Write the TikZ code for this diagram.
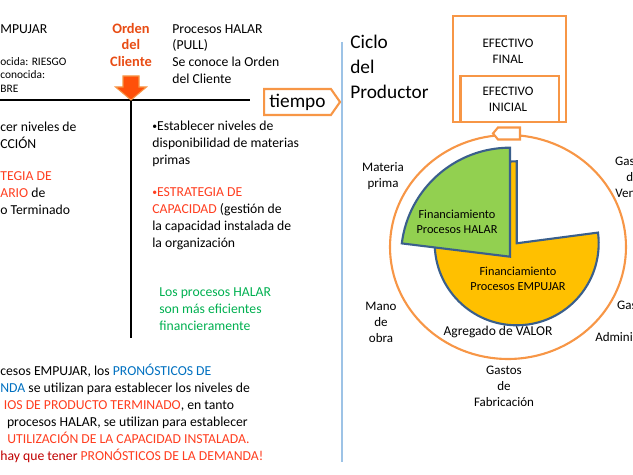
\documentclass[tikz,border=0pt]{standalone}
\usepackage{fontspec}
\setmainfont{Carlito}
\definecolor{naranja1}{RGB}{247,150,70}
\definecolor{rojo1}{RGB}{255,62,32}
\definecolor{rojo2}{RGB}{192,0,0}
\definecolor{azul1}{RGB}{0,112,192}
\definecolor{verde1}{RGB}{0,176,80}
\definecolor{flecha1}{RGB}{255,80,10}
\definecolor{orden1}{RGB}{232,76,20}
\definecolor{celeste1}{RGB}{157,195,230}
\definecolor{amarillo1}{RGB}{255,192,0}
\definecolor{pasto1}{RGB}{146,208,80}
\definecolor{borde1}{RGB}{58,95,140}
\usetikzlibrary{shapes.symbols, positioning}
\newcommand{\vineta}{\raisebox{0.6pt}{\fontsize{5.5}{5.5}\selectfont•}}

\begin{document}
\begin{tikzpicture}[x=0.02cm, y=0.02cm,
  txt/.style={inner sep=0pt, align=left, anchor=west, font=\fontsize{7.8}{9.6}\selectfont},
  chico/.style={inner sep=0pt, align=left, anchor=west, font=\fontsize{6.5}{7.9}\selectfont},
  lbl/.style={inner sep=0pt, align=center, font=\fontsize{7.4}{9.1}\selectfont},
  caja/.style={draw=naranja1, line width=1.2pt},
  sector/.style={draw=borde1, line width=1.2pt}
]
  \useasboundingbox (0,0) rectangle (633,475);
  \clip (0,0) rectangle (633,475);

  \coordinate (ejeI) at (0,375);
  \coordinate (ejeD) at (250,375);
  \coordinate (corte) at (131,375);
  \coordinate (corteB) at (131,137);
  \draw[line width=1.2pt] (ejeI) -- (ejeD);
  \draw[line width=1.2pt] (corte) -- (corteB);
  \draw[draw=naranja1, fill=flecha1, line width=0.6pt]
    (123,399) -- (139,399) -- (139,388) -- (146.5,388) -- (131,375)
    -- (115.5,388) -- (123,388) -- cycle;
  \node[font=\bfseries\fontsize{8.2}{9.4}\selectfont, text=orden1, align=center, inner sep=0pt]
    (orden) at (131,430) {Orden\\del\\Cliente};
  \node[signal, signal to=east, signal pointer angle=110, draw=naranja1, line width=1.2pt,
    fill=white, minimum width=1.52cm, minimum height=0.52cm, inner sep=0pt, anchor=west,
    font=\fontsize{11}{13}\selectfont] (tiempo) at (263,373) {tiempo};

  \node[txt] (empujar) at (0,446) {MPUJAR};
  \node[chico] (riesgo) at (0,400) {ocida: RIESGO\\conocida:\\BRE};
  \node[txt] (produc) at (0,340) {cer niveles de\\CCIÓN};
  \node[txt] (inventario) at (0,282) {\textcolor{rojo1}{TEGIA DE}\\\textcolor{rojo1}{ARIO} de\\o Terminado};

  \node[txt] (halar) at (172,421) {Procesos HALAR\\(PULL)\\Se conoce la Orden\\del Cliente};
  \node[txt] (dispon) at (152,331.5) {\vineta Establecer niveles de\\disponibilidad de materias\\primas};
  \node[txt] (capac) at (152,256) {\textcolor{rojo1}{\vineta ESTRATEGIA DE}\\\textcolor{rojo1}{CAPACIDAD} (gestión de\\la capacidad instalada de\\la organización};
  \node[txt, text=verde1] (eficien) at (159,166) {Los procesos HALAR\\son más eficientes\\financieramente};

  \node[txt] (nota) at (0,61.6) {cesos EMPUJAR, los \textcolor{azul1}{PRONÓSTICOS DE}\\
    \textcolor{azul1}{NDA} se utilizan para establecer los niveles de\\
    \hspace*{2pt}\textcolor{rojo1}{IOS DE PRODUCTO TERMINADO}, en tanto\\
    \hspace*{3.8pt}procesos HALAR, se utilizan para establecer\\
    \hspace*{4pt}\textcolor{rojo1}{UTILIZACIÓN DE LA CAPACIDAD INSTALADA.}\\
    \textcolor{rojo2}{hay que tener} \textcolor{rojo1}{PRONÓSTICOS DE LA DEMANDA!}};

  \coordinate (sepA) at (342,433);
  \coordinate (sepB) at (342,13);
  \draw[celeste1, line width=0.8pt] (sepA) -- (sepB);
  \node[inner sep=0pt, align=left, anchor=west, font=\fontsize{11}{14.2}\selectfont]
    (ciclo) at (350,408.5) {Ciclo\\del\\Productor};

  \draw[caja] (453,459) rectangle (566,353);
  \draw[caja] (460.5,399) rectangle (559,353);
  \node[lbl] (final) at (508,424) {EFECTIVO\\FINAL};
  \node[lbl] (inicial) at (508,376) {EFECTIVO\\INICIAL};

  \draw[naranja1, line width=1.2pt] (508,228) ellipse [x radius=118, y radius=112];
  \draw[caja, fill=white] (493,341.5) -- (498,347.5) -- (520,347.5) -- (520,335.5)
    -- (498,335.5) -- cycle;

  \filldraw[sector, fill=amarillo1] (516.7,231.7) -- ++(90:82)
    arc[start angle=90, end angle=367.5, radius=82] -- cycle;
  \filldraw[sector, fill=pasto1] (510,218.3) -- ++(90:109)
    arc[start angle=90, end angle=173, radius=109] -- cycle;

  \node[lbl, font=\fontsize{7}{8.5}\selectfont] (finHalar) at (457,253) {Financiamiento\\Procesos HALAR};
  \node[lbl, font=\fontsize{7}{8.5}\selectfont] (finEmpujar) at (518,196) {Financiamiento\\Procesos EMPUJAR};
  \node[lbl, font=\fontsize{7.7}{9.1}\selectfont] (valor) at (498,143) {Agregado de VALOR};
  \node[lbl] (materia) at (383,299) {Materia\\prima};
  \node[lbl] (mano) at (381,153) {Mano\\de\\obra};
  \node[lbl] (fabrica) at (504,89) {Gastos\\de\\Fabricación};
  \node[lbl] (ventas) at (633,298) {Gastos\\de\\Ventas};
  \node[lbl] (admin) at (635,153.5) {Gastos\\[9.1pt]Administración};
\end{tikzpicture}
\end{document}
